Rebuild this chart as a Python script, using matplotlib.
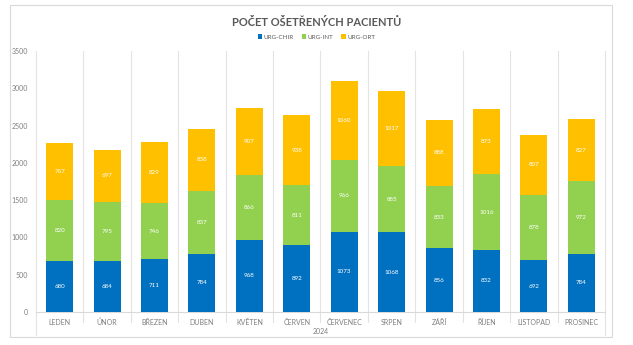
import numpy as np
import matplotlib.pyplot as plt
from matplotlib.patches import Rectangle

plt.rcParams['font.family'] = ['Lato', 'DejaVu Sans']

mesice = ['LEDEN', 'ÚNOR', 'BŘEZEN', 'DUBEN', 'KVĚTEN', 'ČERVEN',
          'ČERVENEC', 'SRPEN', 'ZÁŘÍ', 'ŘÍJEN', 'LISTOPAD', 'PROSINEC']
urg_chir = [680, 684, 711, 784, 968, 892, 1073, 1068, 856, 832, 692, 784]
urg_int = [820, 795, 746, 837, 866, 811, 966, 885, 833, 1016, 878, 972]
urg_ort = [767, 697, 829, 838, 907, 938, 1060, 1017, 888, 873, 807, 827]
rok = '2024'

serie = [('URG-CHIR', urg_chir, '#0070C0'),
         ('URG-INT', urg_int, '#92D050'),
         ('URG-ORT', urg_ort, '#FFC000')]

W, H = 633, 345
fig = plt.figure(figsize=(W / 100, H / 100), dpi=100)
ax = fig.add_axes([36 / W, 1 - 312 / H, (605 - 36) / W, (312 - 51) / H])

# outer border of the chart area
fig.patches.append(Rectangle((10 / W, 1 - 337 / H), 602 / W, 332 / H,
                             transform=fig.transFigure, fill=False,
                             edgecolor='#d9d9d9', linewidth=0.8))

x = np.arange(len(mesice))
bottom = np.zeros(len(mesice))
for name, vals, col in serie:
    bars = ax.bar(x, vals, width=0.57, bottom=bottom, color=col, label=name, zorder=3)
    for b, v in zip(bars, vals):
        ax.text(b.get_x() + b.get_width() / 2, b.get_y() + b.get_height() / 2,
                str(v), ha='center', va='center', color='white', fontsize=4.5, zorder=4)
    bottom += np.array(vals)

ax.set_xlim(-0.5, len(mesice) - 0.5)
ax.set_ylim(0, 3500)
ax.set_yticks(range(0, 3501, 500))
ax.tick_params(axis='y', labelsize=5, colors='#7f7f7f', length=0, pad=6)
ax.set_xticks(x)
ax.set_xticklabels(mesice)
ax.tick_params(axis='x', labelsize=5, colors='#7f7f7f', length=0, pad=5)

for s in ['top', 'right', 'left']:
    ax.spines[s].set_visible(False)
ax.spines['bottom'].set_color('#d9d9d9')
ax.spines['bottom'].set_linewidth(0.8)

# category separators, extending below the axis
for b in np.arange(-0.5, len(mesice), 1.0):
    y0 = -0.09 if b in (-0.5, len(mesice) - 0.5) else -0.04
    ax.plot([b, b], [y0, 1], transform=ax.get_xaxis_transform(), color='#e3e3e3',
            linewidth=0.8, clip_on=False, zorder=1)

ax.text((len(mesice) - 1) / 2, -0.075, rok, transform=ax.get_xaxis_transform(),
        ha='center', va='center', fontsize=5, color='#7f7f7f')

fig.text(0.5, 1 - 22 / H, 'POČET OŠETŘENÝCH PACIENTŮ', ha='center', va='center',
         fontsize=8, fontweight='bold', color='#595959')
fig.legend(loc='center', bbox_to_anchor=(0.5, 1 - 37 / H), ncol=3, frameon=False,
           fontsize=4.5, handlelength=0.7, handleheight=0.7, columnspacing=1.2,
           handletextpad=0.3, labelcolor='#595959')

fig.savefig('out.png', dpi=100)
